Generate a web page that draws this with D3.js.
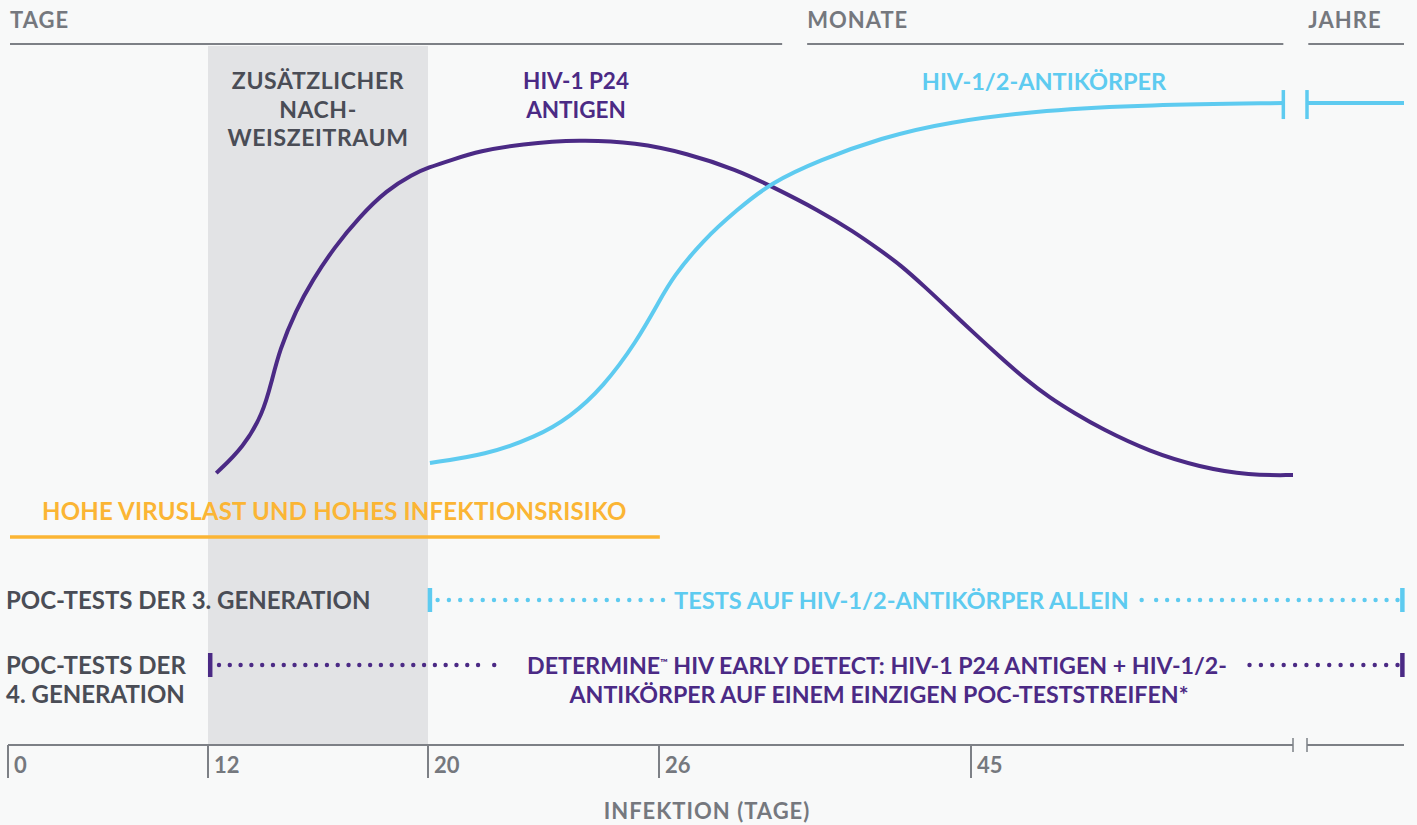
<!DOCTYPE html>
<html lang="de">
<head>
    <meta charset="UTF-8">
    <title>HIV Nachweis</title>
    <style>
        body { margin: 0; background: #f8f9f9; }
        svg { display: block; background: #f8f9f9; font-family: Lato, "Open Sans", sans-serif; font-weight: 700; }
        .hdr { fill: #75787e; font-size: 22px; letter-spacing: 1px; }
        .dark { fill: #4a4d56; font-size: 23.5px; }
        .tick { fill: #75787e; font-size: 22px; }
    </style>
</head>
<body>
<svg id="chart" width="1417" height="825"></svg>
<script src="https://d3js.org/d3.v7.min.js"></script>
<script>
    // axis tick values (days)
    const tickDays = [0, 12, 20, 26, 45];
    // nominal positions: end of "Monate" part, start and end of "Jahre" part
    const breakStart = 65, breakEnd = 66, lastDay = 72;

    // HIV-1 p24 antigen curve (day, relative level 0-100)
    const p24Days   = [12.3, 13.3, 14.0, 14.3, 14.6, 15.2, 15.8, 16.6, 17.5, 18.5, 19.45, 20.0, 20.6, 21.35, 22.4, 23.95, 25.4, 27.7, 30.75, 32.8, 35.8, 37.8, 39.46, 40.7, 42.2, 43.7, 45.25, 46.8, 48.35, 49.9, 51.5, 53.0, 56.1, 59.2, 62.3, 65.0];
    const p24Levels = [1.8, 8.7, 17.6, 25.5, 34.2, 44.7, 52.6, 61.3, 69.2, 76.3, 80.5, 82.2, 84.2, 86.6, 88.4, 89.6, 88.8, 86.0, 81.6, 77.4, 70.8, 65.5, 60.5, 56.6, 50.8, 44.7, 38.4, 32.4, 26.6, 21.6, 17.4, 13.7, 7.4, 3.4, 1.2, 1.3];

    // HIV-1/2 antibody curve
    const abDays   = [20.05, 21.5, 22.8, 23.7, 24.55, 25.4, 26.06, 26.85, 28.7, 30.75, 32.8, 35.8, 39.5, 43.5, 49.7, 55.9, 64.4];
    const abLevels = [4.5, 6.6, 11.3, 16.6, 24.5, 36.1, 47.4, 53.4, 63.2, 71.1, 78.2, 84.2, 90.0, 94.2, 97.4, 98.7, 99.2];

    // window periods (days)
    const extraWindow = [12, 20];
    const riskPeriod = [0, 26.05];

    const svg = d3.select("#chart");

    const x = d3.scaleLinear()
        .domain([0, 12, 20, 26, 45, breakStart, breakEnd, lastDay])
        .range([8, 208, 428, 659, 971, 1293, 1307, 1404]);
    const y = d3.scaleLinear().domain([0, 100]).range([480, 100]);

    const grey = "#7d8086", purple = "#4b2a85", blue = "#5ecbf0", orange = "#fbb534";

    // grey band for the additional detection window
    svg.append("rect")
        .attr("x", x(extraWindow[0])).attr("y", 46)
        .attr("width", x(extraWindow[1]) - x(extraWindow[0]))
        .attr("height", 745 - 46)
        .attr("fill", "#e2e3e5");

    // header: Tage / Monate / Jahre
    const header = [
        { label: "TAGE", from: 0, to: 33.5 },
        { label: "MONATE", from: 34.9, to: breakStart - 0.6 },
        { label: "JAHRE", from: breakEnd - 0.05, to: lastDay }
    ];
    header.forEach(h => {
        svg.append("text").attr("class", "hdr")
            .attr("x", x(h.from) + 2).attr("y", 28).text(h.label);
        svg.append("line")
            .attr("x1", x(h.from) + 2).attr("x2", x(h.to))
            .attr("y1", 44).attr("y2", 44)
            .attr("stroke", grey).attr("stroke-width", 2);
    });

    // labels in the plot
    svg.append("text").attr("class", "dark")
        .attr("text-anchor", "middle")
        .style("font-size", "23px").style("letter-spacing", "0.6px")
        .selectAll("tspan")
        .data(["ZUSÄTZLICHER", "NACH-", "WEISZEITRAUM"])
        .join("tspan")
        .attr("x", (x(extraWindow[0]) + x(extraWindow[1])) / 2)
        .attr("y", (d, i) => 89 + i * 28.5)
        .text(d => d);

    svg.append("text").attr("class", "dark").style("fill", purple)
        .style("font-size", "22.5px")
        .attr("text-anchor", "middle")
        .selectAll("tspan")
        .data(["HIV-1 P24", "ANTIGEN"])
        .join("tspan")
        .attr("x", 576)
        .attr("y", (d, i) => 89 + i * 28.5)
        .text(d => d);

    svg.append("text").attr("class", "dark").style("fill", blue)
        .style("font-size", "23.5px")
        .attr("text-anchor", "middle")
        .attr("x", 1044).attr("y", 90)
        .text("HIV-1/2-ANTIKÖRPER");

    // curves
    const line = d3.line()
        .x(d => x(d[0])).y(d => y(d[1]))
        .curve(d3.curveBasis);

    svg.append("path")
        .datum(p24Days.map((d, i) => [d, p24Levels[i]]))
        .attr("d", line)
        .attr("fill", "none").attr("stroke", purple).attr("stroke-width", 4);

    svg.append("path")
        .datum(abDays.map((d, i) => [d, abLevels[i]]))
        .attr("d", line)
        .attr("fill", "none").attr("stroke", blue).attr("stroke-width", 4);

    // antibody level continues into years
    const abEnd = abLevels[abLevels.length - 1];
    svg.append("line")
        .attr("x1", x(breakEnd)).attr("x2", x(lastDay))
        .attr("y1", y(abEnd)).attr("y2", y(abEnd))
        .attr("stroke", blue).attr("stroke-width", 4);
    [abDays[abDays.length - 1], breakEnd].forEach(d => {
        svg.append("line")
            .attr("x1", x(d)).attr("x2", x(d))
            .attr("y1", y(abEnd) - 13).attr("y2", y(abEnd) + 16)
            .attr("stroke", blue).attr("stroke-width", 3.5);
    });

    // high viral load period
    svg.append("text").attr("class", "dark").style("fill", orange)
        .style("font-size", "24px").style("letter-spacing", "0.2px")
        .attr("x", 42).attr("y", 520)
        .text("HOHE VIRUSLAST UND HOHES INFEKTIONSRISIKO");
    svg.append("line")
        .attr("x1", x(riskPeriod[0]) + 2).attr("x2", x(riskPeriod[1]))
        .attr("y1", 537).attr("y2", 537)
        .attr("stroke", orange).attr("stroke-width", 3.5);

    // test rows
    svg.append("text").attr("class", "dark")
        .style("font-size", "24px")
        .attr("x", 6).attr("y", 609)
        .text("POC-TESTS DER 3. GENERATION");
    svg.append("text").attr("class", "dark")
        .style("font-size", "24px")
        .selectAll("tspan")
        .data(["POC-TESTS DER", "4. GENERATION"])
        .join("tspan")
        .attr("x", 6).attr("y", (d, i) => 674 + i * 29)
        .text(d => d);

    function dots(a, b, cy, color) {
        const n = Math.max(1, Math.round((x(b) - x(a)) / 11));
        svg.append("g").selectAll("circle")
            .data(d3.range(a === b ? 1 : n + 1))
            .join("circle")
            .attr("cx", i => x(a) + i * (x(b) - x(a)) / n)
            .attr("cy", cy).attr("r", 2.2)
            .attr("fill", color);
    }
    function bar(d, cy, color) {
        svg.append("line")
            .attr("x1", x(d)).attr("x2", x(d))
            .attr("y1", cy - 12).attr("y2", cy + 12)
            .attr("stroke", color).attr("stroke-width", 4.5);
    }

    // 3rd generation: antibodies only, from day 20
    bar(20.05, 600, blue);
    dots(20.25, 26.25, 600, blue);
    dots(55.6, 55.6, 600, blue);
    dots(56.5, lastDay - 0.4, 600, blue);
    bar(lastDay - 0.1, 600, blue);
    svg.append("text").attr("class", "dark").style("fill", blue)
        .style("font-size", "23.6px")
        .attr("x", 674).attr("y", 609)
        .text("TESTS AUF HIV-1/2-ANTIKÖRPER ALLEIN");

    // 4th generation: antigen + antibodies, from day 12
    bar(12.08, 665, purple);
    dots(12.4, 21.3, 665, purple);
    dots(21.72, 21.72, 665, purple);
    dots(62.3, lastDay - 0.4, 665, purple);
    bar(lastDay - 0.1, 665, purple);
    const det = svg.append("text").attr("class", "dark").style("fill", purple)
        .style("font-size", "23.2px")
        .attr("text-anchor", "middle");
    const l1 = det.append("tspan").attr("x", 877).attr("y", 674);
    l1.append("tspan").text("DETERMINE");
    l1.append("tspan").text("™").style("font-size", "10px").attr("dy", -8);
    l1.append("tspan").text(" HIV EARLY DETECT: HIV-1 P24 ANTIGEN + HIV-1/2-").attr("dy", 8);
    det.append("tspan").attr("x", 879).attr("y", 703)
        .text("ANTIKÖRPER AUF EINEM EINZIGEN POC-TESTSTREIFEN*");

    // x axis
    const axisY = 745;
    svg.append("line")
        .attr("x1", x(0)).attr("x2", x(breakStart))
        .attr("y1", axisY).attr("y2", axisY)
        .attr("stroke", grey).attr("stroke-width", 2);
    svg.append("line")
        .attr("x1", x(breakEnd)).attr("x2", x(lastDay))
        .attr("y1", axisY).attr("y2", axisY)
        .attr("stroke", grey).attr("stroke-width", 2);
    [breakStart, breakEnd].forEach(d => {
        svg.append("line")
            .attr("x1", x(d)).attr("x2", x(d))
            .attr("y1", axisY - 7).attr("y2", axisY + 7)
            .attr("stroke", grey).attr("stroke-width", 1.5);
    });

    const ticks = svg.append("g").selectAll("g")
        .data(tickDays)
        .join("g")
        .attr("transform", d => `translate(${x(d)},0)`);
    ticks.append("line")
        .attr("y1", axisY).attr("y2", axisY + 33)
        .attr("stroke", grey).attr("stroke-width", 2);
    ticks.append("text").attr("class", "tick")
        .attr("x", 6).attr("y", axisY + 28)
        .text(d => d);

    svg.append("text").attr("class", "hdr")
        .attr("text-anchor", "middle")
        .attr("x", 707).attr("y", 819)
        .text("INFEKTION (TAGE)");
</script>
</body>
</html>
